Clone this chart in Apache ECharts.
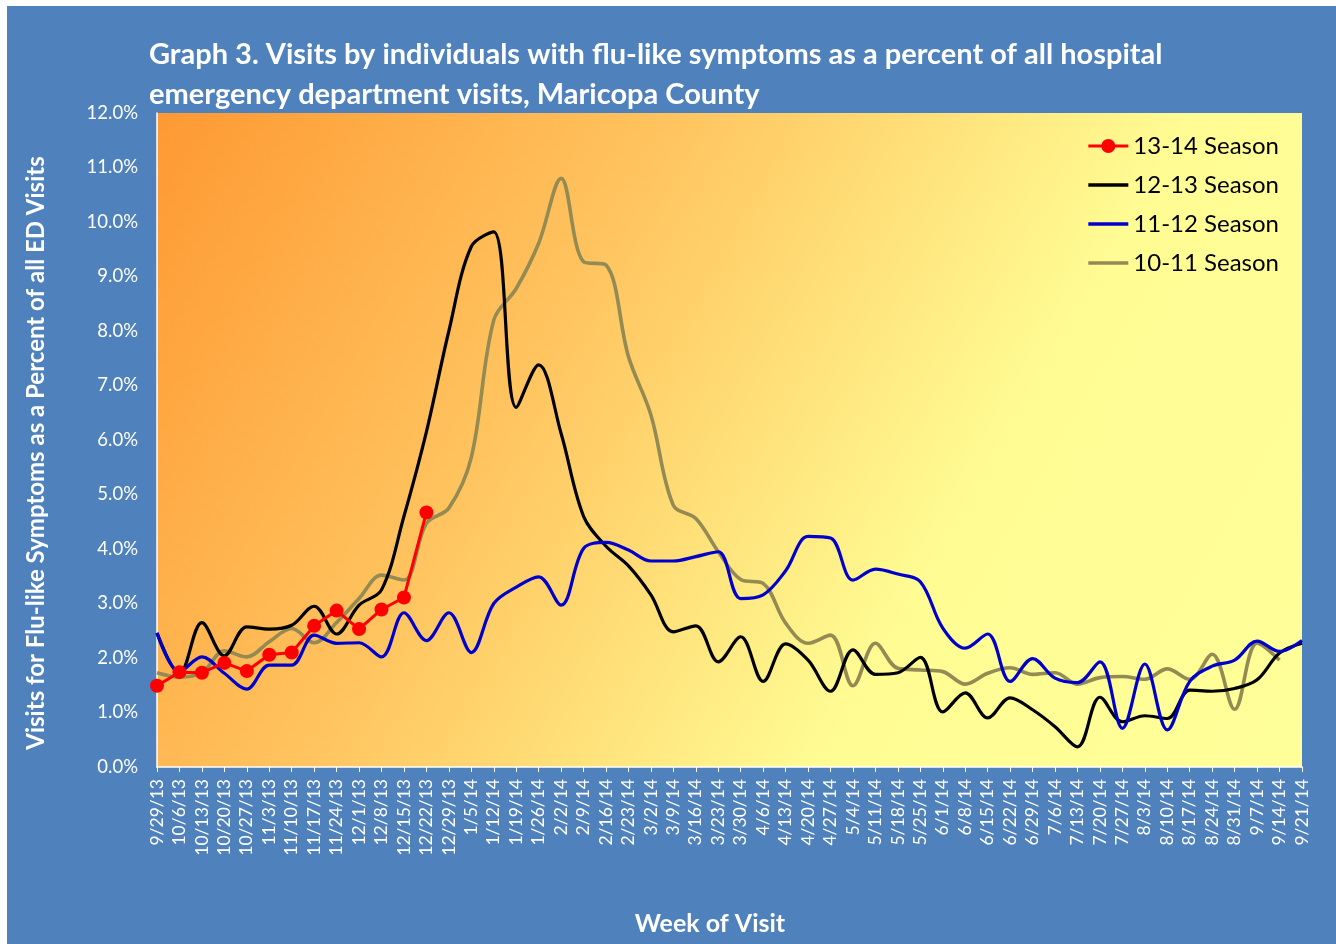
<!DOCTYPE html>
<html>
<head>
<meta charset="utf-8">
<script src="https://cdn.jsdelivr.net/npm/echarts@6/dist/echarts.min.js"></script>
<style>
html,body{margin:0;padding:0;background:#fff;}
#c{position:absolute;left:7px;top:6px;width:1329px;height:938px;background:#4F81BD;}
</style>
</head>
<body>
<div id="c"></div>
<script>
const weeks = ['9/29/13','10/6/13','10/13/13','10/20/13','10/27/13','11/3/13','11/10/13','11/17/13','11/24/13','12/1/13','12/8/13','12/15/13','12/22/13','12/29/13','1/5/14','1/12/14','1/19/14','1/26/14','2/2/14','2/9/14','2/16/14','2/23/14','3/2/14','3/9/14','3/16/14','3/23/14','3/30/14','4/6/14','4/13/14','4/20/14','4/27/14','5/4/14','5/11/14','5/18/14','5/25/14','6/1/14','6/8/14','6/15/14','6/22/14','6/29/14','7/6/14','7/13/14','7/20/14','7/27/14','8/3/14','8/10/14','8/17/14','8/24/14','8/31/14','9/7/14','9/14/14','9/21/14'];
const season1314 = [1.49,1.74,1.73,1.91,1.76,2.06,2.10,2.59,2.87,2.53,2.89,3.11,4.67];
const season1213 = [2.46,1.71,2.65,2.04,2.57,2.53,2.60,2.95,2.44,2.97,3.25,4.60,6.15,8.00,9.55,9.82,6.60,7.38,6.12,4.60,4.05,3.69,3.16,2.48,2.59,1.93,2.39,1.57,2.26,1.96,1.39,2.15,1.70,1.73,2.01,1.01,1.36,0.90,1.27,1.05,0.74,0.37,1.28,0.83,0.94,0.89,1.41,1.39,1.44,1.60,2.09,2.27];
const season1112 = [2.46,1.75,2.02,1.72,1.43,1.87,1.87,2.42,2.27,2.28,2.02,2.83,2.32,2.83,2.10,3.00,3.30,3.49,2.97,4.01,4.12,3.98,3.78,3.78,3.86,3.95,3.09,3.16,3.60,4.23,4.20,3.43,3.63,3.54,3.40,2.55,2.18,2.44,1.57,1.99,1.63,1.55,1.93,0.71,1.89,0.68,1.57,1.85,1.96,2.31,2.12,2.32];
const season1011 = [1.73,1.65,1.73,2.13,2.02,2.30,2.54,2.28,2.65,3.09,3.52,3.43,4.47,4.75,5.68,8.20,8.78,9.61,10.80,9.27,9.21,7.53,6.46,4.80,4.56,3.95,3.44,3.37,2.64,2.27,2.42,1.49,2.27,1.81,1.78,1.75,1.52,1.72,1.82,1.70,1.73,1.52,1.64,1.66,1.61,1.80,1.61,2.07,1.06,2.27,1.96];

const chart = echarts.init(document.getElementById('c'), null, {renderer:'canvas'});
const font = 'Lato, "Open Sans", "Noto Sans", sans-serif';
const lineIcon = 'path://M0,0 L40,0 L40,3.5 L0,3.5 Z';
const dotIcon = 'path://M0,5.5 L40,5.5 L40,8.5 L0,8.5 Z M27,7 A7,7 0 1 1 27,6.99 Z';
chart.setOption({
  animation:false,
  title:{
    text:'Graph 3. Visits by individuals with flu-like symptoms as a percent of all hospital\nemergency department visits, Maricopa County',
    left:142, top:29, padding:0,
    textStyle:{color:'#fff',fontSize:29,fontWeight:'bold',fontFamily:font,lineHeight:40}
  },
  legend:{
    orient:'vertical', right:52, top:123, itemGap:15, itemWidth:40, itemHeight:24,
    textStyle:{color:'#000',fontSize:24,fontFamily:font},
    data:[
      {name:'13-14 Season', icon:dotIcon},
      {name:'12-13 Season', icon:lineIcon},
      {name:'11-12 Season', icon:lineIcon},
      {name:'10-11 Season', icon:lineIcon}
    ]
  },
  graphic:[
    {type:'text', position:[29,447], rotation:Math.PI/2, silent:true,
      style:{text:'Visits for Flu-like Symptoms as a Percent of all ED Visits', fill:'#fff',
        font:'bold 24px '+font, textAlign:'center', textVerticalAlign:'middle'}},
    {type:'text', position:[703,918], silent:true,
      style:{text:'Week of Visit', fill:'#fff', font:'bold 25px '+font, textAlign:'center', textVerticalAlign:'middle'}}
  ],
  grid:{left:150,top:107,right:34,bottom:177,show:true,borderWidth:0,
    backgroundColor:new echarts.graphic.LinearGradient(0,0,1,1,[
      {offset:0,color:'#FE9933'},{offset:0.35,color:'#FFC560'},{offset:0.68,color:'#FFFC93'},{offset:1,color:'#FFFF99'}])
  },
  xAxis:{
    type:'category', data:weeks, boundaryGap:false,
    axisLine:{lineStyle:{color:'#fff',width:1.5}},
    axisTick:{show:true,alignWithLabel:true,length:5,interval:0,lineStyle:{color:'#fff'}},
    axisLabel:{interval:0,rotate:90,color:'#fff',fontSize:17.5,fontFamily:font,margin:12},
    splitLine:{show:false}
  },
  yAxis:{
    type:'value', min:0, max:12, interval:1,
    axisLine:{show:true,lineStyle:{color:'#fff',width:1.5}},
    axisTick:{show:false},
    axisLabel:{color:'#fff',fontSize:18.5,fontFamily:font,margin:19,formatter:v=>v.toFixed(1)+'%'},
    splitLine:{show:false}
  },
  series:[
    {name:'13-14 Season',type:'line',data:season1314,smooth:false,symbol:'circle',symbolSize:14,
      itemStyle:{color:'#FF0000'},lineStyle:{color:'#FF0000',width:3},z:10},
    {name:'12-13 Season',type:'line',data:season1213,smooth:0.35,symbol:'none',
      itemStyle:{color:'#000'},lineStyle:{color:'#000',width:3.2},z:7},
    {name:'11-12 Season',type:'line',data:season1112,smooth:0.35,symbol:'none',
      itemStyle:{color:'#0000CC'},lineStyle:{color:'#0000CC',width:3.2},z:8},
    {name:'10-11 Season',type:'line',data:season1011,smooth:0.35,symbol:'none',
      itemStyle:{color:'#948A54'},lineStyle:{color:'#948A54',width:3.6},z:6}
  ]
});
</script>
</body>
</html>
